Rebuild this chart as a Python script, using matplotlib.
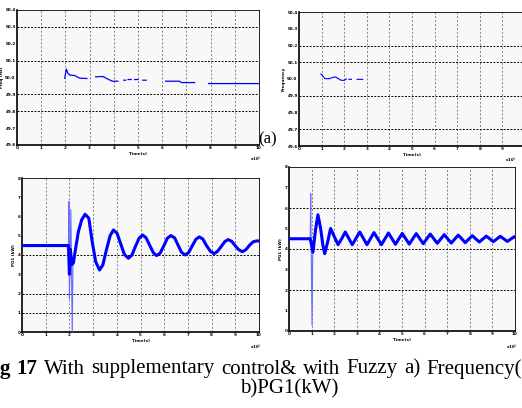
import numpy as np
import matplotlib
matplotlib.use("Agg")
import matplotlib.pyplot as plt

nan = np.nan
# ---- Panel (a) left: frequency (Hz) vs time
f1_t = [1.97, 2.04, 2.10, 2.18, 2.38, 2.59, 2.89, nan,
        3.25, 3.55, 3.76, 3.94, 4.17, nan,
        4.41, 4.49, nan, 4.59, 4.72, nan, 4.86, 5.00, nan, 5.20, 5.34, nan,
        6.14, 6.72, 6.79, 7.34, nan, 7.92, 10.0]
f1_v = [49.996, 50.05, 50.026, 50.014, 50.012, 49.996, 49.994, nan,
        50.004, 50.006, 49.99, 49.978, 49.978, nan,
        49.984, 49.984, nan, 49.988, 49.988, nan, 49.988, 49.988, nan, 49.984, 49.984, nan,
        49.978, 49.978, 49.97, 49.97, nan, 49.964, 49.964]

# ---- Panel (a) right: frequency
f2_t = [0.97, 1.03, 1.15, 1.35, 1.50, 1.62, 1.74, 1.87, 2.00, 2.10, nan,
        2.21, 2.32, nan, 2.57, 2.82]
f2_v = [50.03, 50.022, 50.002, 50.002, 50.01, 50.012, 50.002, 49.992, 49.992, 50.0, nan,
        49.998, 49.998, nan, 49.998, 49.998]

# ---- Panel (b) left: PG1
p1_t = [0.0, 1.96, 2.00, 2.04, 2.10, 2.17, 2.24, 2.38, 2.52, 2.66,
        2.82, 2.96, 3.11, 3.27, 3.41, 3.56, 3.72, 3.86,
        4.01, 4.17, 4.32, 4.49, 4.64, 4.78, 4.94, 5.09,
        5.23, 5.39, 5.54, 5.68, 5.83, 5.99, 6.13, 6.28,
        6.44, 6.59, 6.73, 6.89, 7.04, 7.18, 7.34, 7.48,
        7.63, 7.78, 7.95, 8.11, 8.25, 8.40, 8.56, 8.70,
        8.85, 8.99, 9.14, 9.30, 9.45, 9.61, 9.75, 9.89, 10.0]
p1_v = [4.49, 4.49, 3.0, 4.3, 3.5, 3.6, 4.17, 5.22, 5.83, 6.12,
        5.91, 4.70, 3.65, 3.22, 3.48, 4.26, 5.01, 5.30,
        5.13, 4.56, 4.03, 3.83, 4.00, 4.43, 4.87, 5.04,
        4.90, 4.50, 4.12, 3.97, 4.10, 4.49, 4.87, 5.01,
        4.89, 4.50, 4.14, 4.00, 4.14, 4.47, 4.82, 4.94,
        4.83, 4.50, 4.19, 4.07, 4.19, 4.43, 4.70, 4.80,
        4.71, 4.49, 4.28, 4.17, 4.28, 4.52, 4.68, 4.73, 4.73]
p1_spk_t = [1.96, 1.98, 2.00, 2.03, 2.06, 2.09, 2.12, 2.15, 2.17]
p1_spk_v = [4.49, 6.78, 1.74, 3.48, 6.35, 3.13, -0.2, 3.65, 3.57]

# ---- Panel (b) right: PG1
p2_t = [0.0, 0.94, 1.06, 1.17, 1.28, 1.40, 1.50, 1.58, 1.71, 1.84, 2.01, 2.17, 2.33,
        2.49, 2.80, 3.13, 3.45, 3.76, 4.09, 4.40, 4.71, 5.01, 5.32, 5.63, 5.94,
        6.25, 6.56, 6.87, 7.18, 7.49, 7.80, 8.11, 8.42, 8.73, 9.04, 9.35, 9.66, 9.97, 10.0]
p2_v = [4.50, 4.50, 3.85, 4.91, 5.67, 5.00, 4.18, 3.77, 4.34, 5.00, 4.59, 4.21, 4.50,
        4.83, 4.21, 4.83, 4.21, 4.80, 4.21, 4.78, 4.23, 4.76, 4.24, 4.75, 4.26,
        4.73, 4.28, 4.70, 4.29, 4.68, 4.31, 4.65, 4.34, 4.63, 4.36, 4.62, 4.37, 4.60, 4.59]
p2_spk_t = [0.94, 0.96, 0.99, 1.02, 1.05]
p2_spk_v = [4.50, 6.70, 3.2, 0.28, 3.85]

xticks = list(range(0, 11))
fticks = [49.6, 49.7, 49.8, 49.9, 50.0, 50.1, 50.2, 50.3, 50.4]
pticks = list(range(0, 9))

caption_bold = ["g", "17"]
caption_rest = "With supplementary control& with Fuzzy a) Frequency(".split(" ")
caption_line2 = "b)PG1(kW)"

W, H = 522, 408
fig = plt.figure(figsize=(W / 100, H / 100), dpi=100)
fig.patch.set_facecolor("white")

def rect(l, r, t, b):
    return [l / W, 1 - b / H, (r - l) / W, (b - t) / H]

BLUE = "#0000ff"

def style(ax, yt, hgrid, xlabel, ylabel, exp, expx=0.985):
    ax.set_facecolor("#f8f8f8")
    ax.set_xlim(0, 10)
    ax.set_ylim(yt[0], yt[-1])
    ax.set_xticks(xticks)
    ax.set_yticks(yt)
    ax.tick_params(length=0, labelsize=3, pad=1)
    for lab in ax.get_xticklabels() + ax.get_yticklabels():
        lab.set_fontweight("bold")
    for x in xticks[1:-1]:
        ax.axvline(x, color="#808080", ls=(0, (2, 2)), lw=0.7, zorder=1)
    for y in hgrid:
        ax.axhline(y, color="black", ls=(0, (2, 1.5)), lw=0.7, zorder=1)
    for s in ["left", "bottom"]:
        ax.spines[s].set_linewidth(1.2)
    for s in ["top", "right"]:
        ax.spines[s].set_linewidth(0.6)
    ax.set_xlabel(xlabel, fontsize=3, fontweight="bold", labelpad=1)
    ax.set_ylabel(ylabel, fontsize=3, fontweight="bold", labelpad=1)
    ax.text(expx, -0.07, exp, transform=ax.transAxes, fontsize=2.8, fontweight="bold",
            ha="center", va="top")

ax1 = fig.add_axes(rect(17, 259, 10, 145))
ax1.plot(f1_t, f1_v, color=BLUE, lw=0.9, zorder=3)
style(ax1, fticks, [50.3, 50.1, 49.9, 49.8], "Time(s)", "Freq (Hz)", "x10$^4$")

ax2 = fig.add_axes(rect(299, 525, 12, 146))
ax2.plot(f2_t, f2_v, color=BLUE, lw=0.8, zorder=3)
style(ax2, fticks, [50.2, 50.1, 49.9, 49.7], "Time(s)", "Frequency", "x10$^4$", expx=0.935)
ax2.set_xticklabels([str(v) for v in xticks[:-1]] + [""], fontsize=3, fontweight="bold")

ax3 = fig.add_axes(rect(22, 259, 178, 332))
ax3.plot(p1_spk_t, p1_spk_v, color="#6a6aff", lw=0.8, zorder=3)
ax3.plot(p1_t, p1_v, color=BLUE, lw=2.2, zorder=4, solid_joinstyle="round")
style(ax3, pticks, [4, 2, 1], "Time(s)", "PG1 (kW)", "x10$^4$")

ax4 = fig.add_axes(rect(289, 515, 167, 331))
ax4.plot(p2_spk_t, p2_spk_v, color="#6a6aff", lw=0.8, zorder=3)
ax4.plot(p2_t, p2_v, color=BLUE, lw=2.2, zorder=4, solid_joinstyle="round")
style(ax4, pticks, [6, 4, 2], "Time(s)", "PG1 (kW)", "x10$^4$")

fig.text(268 / W, 1 - 139 / H, "(a)", fontsize=12, family="Liberation Serif",
         ha="center", va="center")

# caption line 1, justified across the width
cap_y = 1 - 369 / H
fs = 15
words = [(w, "bold") for w in caption_bold] + [(w, "normal") for w in caption_rest]
texts = [fig.text(0, cap_y, w, fontsize=fs, family="Liberation Serif", fontweight=fw,
                  ha="left", va="center") for w, fw in words]
fig.canvas.draw()
r = fig.canvas.get_renderer()
widths = [t.get_window_extent(renderer=r).width for t in texts]
x0, x1 = 0.0, 522.0
gap = (x1 - x0 - sum(widths)) / (len(widths) - 1)
x = x0
for t, wdt in zip(texts, widths):
    t.set_x(x / W)
    x += wdt + gap
fig.text(289 / W, 1 - 389 / H, caption_line2, fontsize=fs, family="Liberation Serif",
         ha="center", va="center")

fig.savefig("out.png", dpi=100)
